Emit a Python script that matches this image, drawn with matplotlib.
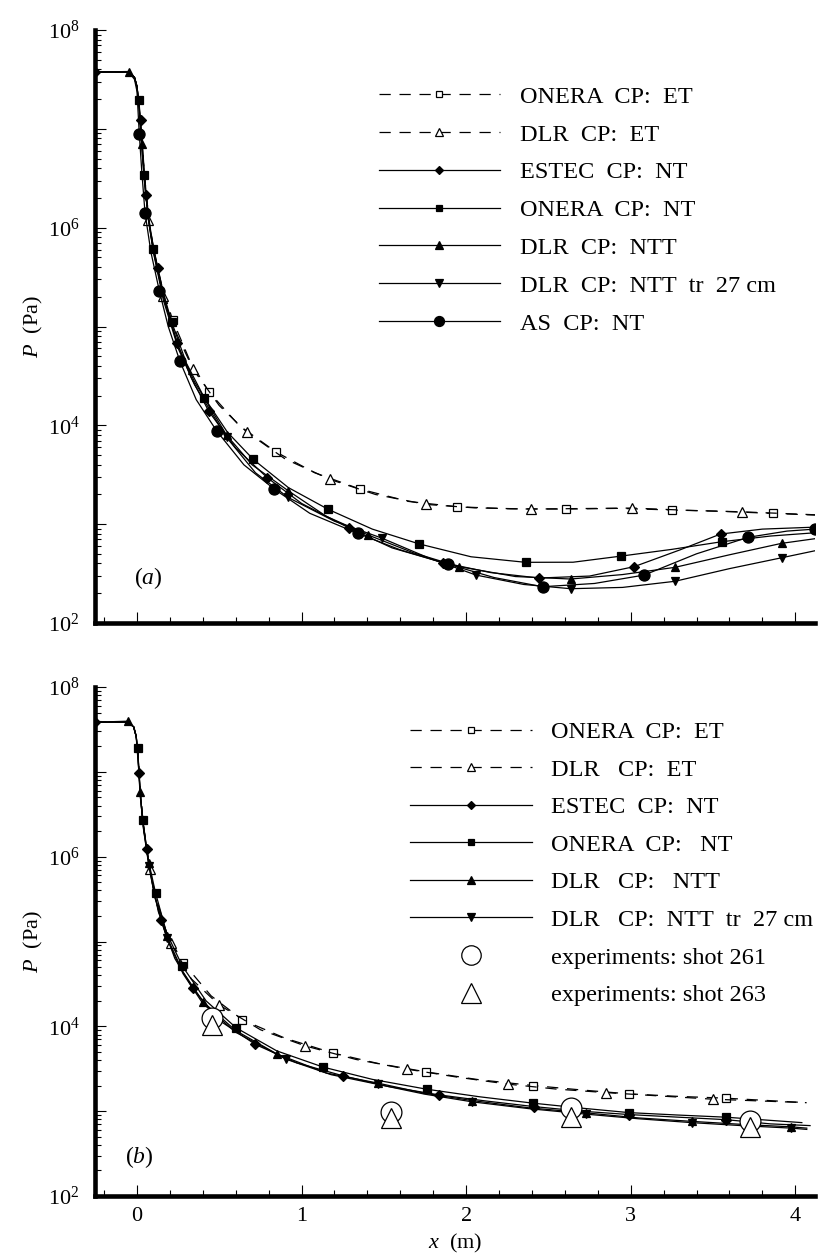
import numpy as np
import matplotlib
matplotlib.use('Agg')
import matplotlib.pyplot as plt
from matplotlib.lines import Line2D
from matplotlib.ticker import LogLocator, MultipleLocator, FuncFormatter, NullFormatter

plt.rcParams['font.family'] = ['Liberation Serif', 'DejaVu Serif']
plt.rcParams['mathtext.fontset'] = 'custom'
plt.rcParams['mathtext.rm'] = 'Liberation Serif'
plt.rcParams['mathtext.it'] = 'Liberation Serif:italic'

# ---------------- panel (a): x in m, log10(P / Pa), marker node indices
a_onera_et_x = [-0.255, -0.05, -0.015, 0.0, 0.012, 0.03, 0.045, 0.07, 0.1, 0.15, 0.217, 0.32, 0.437,
                0.62, 0.843, 1.08, 1.355, 1.65, 1.946, 2.27, 2.61, 2.93, 3.254, 3.55, 3.862, 4.12]
a_onera_et_lp = [7.575, 7.575, 7.52, 7.43, 7.28, 6.85, 6.54, 6.12, 5.79, 5.42, 5.064, 4.66, 4.339,
                 4.0, 3.732, 3.52, 3.355, 3.23, 3.176, 3.155, 3.153, 3.16, 3.143, 3.13, 3.109, 3.092]
a_onera_et_marks = [10, 12, 14, 16, 18, 20, 22, 24]

a_dlr_et_x = [-0.255, -0.05, -0.015, 0.0, 0.012, 0.03, 0.045, 0.068, 0.1, 0.16, 0.24, 0.342, 0.5,
              0.666, 0.9, 1.173, 1.45, 1.756, 2.05, 2.394, 2.7, 3.009, 3.35, 3.674, 4.12]
a_dlr_et_lp = [7.575, 7.575, 7.52, 7.43, 7.27, 6.85, 6.52, 6.08, 5.78, 5.306, 4.93, 4.565, 4.2,
               3.934, 3.66, 3.453, 3.3, 3.2, 3.165, 3.153, 3.158, 3.163, 3.14, 3.125, 3.095]
a_dlr_et_marks = [7, 9, 11, 13, 15, 17, 19, 21, 23]

a_estec_x = [-0.255, -0.05, -0.015, 0.0, 0.022, 0.035, 0.053, 0.08, 0.126, 0.18, 0.245, 0.33, 0.437,
             0.6, 0.792, 1.0, 1.29, 1.55, 1.861, 2.15, 2.444, 2.75, 3.021, 3.3, 3.546, 3.8, 4.12]
a_estec_lp = [7.575, 7.575, 7.52, 7.42, 7.09, 6.8, 6.33, 5.98, 5.59, 5.2, 4.83, 4.48, 4.14,
              3.77, 3.47, 3.21, 2.96, 2.76, 2.61, 2.51, 2.455, 2.475, 2.57, 2.74, 2.9, 2.95, 2.97]
a_estec_marks = [0, 4, 6, 8, 10, 12, 14, 16, 18, 20, 22, 24]

a_onera_nt_x = [-0.255, -0.05, -0.015, 0.0, 0.012, 0.028, 0.045, 0.07, 0.099, 0.15, 0.21, 0.3, 0.409,
                0.55, 0.707, 0.92, 1.162, 1.43, 1.715, 2.03, 2.361, 2.65, 2.942, 3.25, 3.552, 3.85, 4.12]
a_onera_nt_lp = [7.575, 7.575, 7.52, 7.42, 7.29, 6.9, 6.53, 6.12, 5.785, 5.4, 5.05, 4.63, 4.28,
                 3.93, 3.655, 3.37, 3.15, 2.95, 2.8, 2.67, 2.614, 2.615, 2.677, 2.745, 2.822, 2.88, 2.913]
a_onera_nt_marks = [4, 6, 8, 10, 12, 14, 16, 18, 20, 22, 24]

a_dlr_ntt_x = [-0.255, -0.05, -0.015, 0.0, 0.012, 0.028, 0.045, 0.07, 0.1, 0.16, 0.25, 0.35, 0.545,
               0.7, 0.919, 1.15, 1.405, 1.68, 1.958, 2.3, 2.635, 2.95, 3.269, 3.6, 3.917, 4.12]
a_dlr_ntt_lp = [7.575, 7.58, 7.52, 7.43, 7.24, 6.843, 6.48, 6.08, 5.76, 5.3, 4.8, 4.44, 3.9,
                3.6, 3.338, 3.08, 2.89, 2.71, 2.57, 2.47, 2.445, 2.49, 2.563, 2.69, 2.806, 2.853]
a_dlr_ntt_marks = [1, 5, 12, 14, 16, 18, 20, 22, 24]

a_dlr_tr_x = [-0.255, -0.05, -0.015, 0.0, 0.012, 0.03, 0.045, 0.07, 0.1, 0.16, 0.25, 0.35, 0.545,
              0.72, 0.919, 1.2, 1.486, 1.77, 2.06, 2.35, 2.635, 2.95, 3.269, 3.6, 3.917, 4.12]
a_dlr_tr_lp = [7.575, 7.575, 7.52, 7.43, 7.24, 6.8, 6.48, 6.07, 5.75, 5.27, 4.78, 4.41, 3.877,
               3.52, 3.27, 3.03, 2.86, 2.66, 2.485, 2.39, 2.347, 2.36, 2.422, 2.55, 2.66, 2.731]
a_dlr_tr_marks = [12, 14, 16, 18, 20, 22, 24]

a_as_x = [-0.255, -0.05, -0.015, 0.0, 0.014, 0.03, 0.049, 0.085, 0.136, 0.19, 0.261, 0.36, 0.484,
          0.65, 0.834, 1.05, 1.341, 1.6, 1.887, 2.17, 2.465, 2.78, 3.082, 3.4, 3.714, 3.95, 4.12]
a_as_lp = [7.575, 7.575, 7.5, 7.38, 6.95, 6.55, 6.149, 5.75, 5.36, 5.0, 4.649, 4.26, 3.944,
           3.6, 3.355, 3.11, 2.907, 2.74, 2.597, 2.46, 2.367, 2.4, 2.485, 2.7, 2.867, 2.93, 2.95]
a_as_marks = [4, 6, 8, 10, 12, 14, 16, 18, 20, 22, 24, 26]

# ---------------- panel (b)
b_onera_et_x = [-0.255, -0.06, -0.02, -0.005, 0.005, 0.02, 0.04, 0.07, 0.11, 0.18, 0.282, 0.45, 0.64,
                0.9, 1.193, 1.47, 1.756, 2.08, 2.408, 2.7, 2.989, 3.28, 3.578, 4.069]
b_onera_et_lp = [7.585, 7.585, 7.53, 7.42, 7.26, 6.76, 6.35, 5.95, 5.56, 5.1, 4.746, 4.36, 4.077,
                 3.86, 3.684, 3.56, 3.463, 3.37, 3.302, 3.25, 3.204, 3.175, 3.153, 3.1]
b_onera_et_marks = [10, 12, 14, 16, 18, 20, 22]

b_dlr_et_x = [-0.255, -0.06, -0.02, -0.005, 0.005, 0.02, 0.04, 0.077, 0.13, 0.207, 0.33, 0.498,
              0.75, 1.021, 1.33, 1.642, 1.95, 2.256, 2.55, 2.849, 3.17, 3.501, 4.069]
b_dlr_et_lp = [7.585, 7.585, 7.53, 7.42, 7.26, 6.76, 6.35, 5.85, 5.35, 4.982, 4.56, 4.254,
               3.96, 3.77, 3.61, 3.495, 3.4, 3.318, 3.26, 3.219, 3.18, 3.141, 3.1]
b_dlr_et_marks = [7, 9, 11, 13, 15, 17, 19, 21]

b_estec_x = [-0.255, -0.06, -0.02, -0.005, 0.012, 0.03, 0.059, 0.095, 0.144, 0.23, 0.338, 0.5, 0.72,
             0.97, 1.253, 1.53, 1.835, 2.12, 2.412, 2.7, 2.99, 3.28, 3.578, 3.85, 4.09]
b_estec_lp = [7.585, 7.59, 7.53, 7.42, 6.988, 6.52, 6.091, 5.67, 5.257, 4.8, 4.451, 4.07, 3.786,
              3.57, 3.416, 3.29, 3.192, 3.12, 3.054, 3.0, 2.96, 2.93, 2.9, 2.85, 2.83]
b_estec_marks = [0, 4, 6, 8, 10, 12, 14, 16, 18, 20, 22]

b_onera_nt_x = [-0.255, -0.06, -0.02, -0.005, 0.004, 0.018, 0.034, 0.07, 0.113, 0.18, 0.276, 0.42,
                0.603, 0.85, 1.132, 1.43, 1.76, 2.08, 2.408, 2.7, 2.989, 3.28, 3.578, 4.04]
b_onera_nt_lp = [7.585, 7.585, 7.53, 7.42, 7.283, 6.82, 6.437, 5.95, 5.572, 5.1, 4.71, 4.3,
                 3.982, 3.71, 3.519, 3.375, 3.259, 3.17, 3.094, 3.036, 2.983, 2.955, 2.929, 2.865]
b_onera_nt_marks = [4, 6, 8, 10, 12, 14, 16, 18, 20, 22]

b_dlr_ntt_x = [-0.255, -0.057, -0.02, -0.005, 0.005, 0.018, 0.04, 0.071, 0.11, 0.18, 0.28, 0.403,
               0.6, 0.849, 1.15, 1.466, 1.75, 2.037, 2.38, 2.728, 3.05, 3.37, 3.67, 3.977, 4.07]
b_dlr_ntt_lp = [7.585, 7.597, 7.53, 7.42, 7.24, 6.759, 6.33, 5.92, 5.52, 5.06, 4.64, 4.286,
                3.95, 3.676, 3.45, 3.33, 3.21, 3.125, 3.04, 2.98, 2.92, 2.88, 2.845, 2.815, 2.8]
b_dlr_ntt_marks = [1, 5, 7, 9, 11, 13, 15, 17, 19, 21, 23]

b_dlr_tr_x = [-0.255, -0.05, -0.02, -0.005, 0.005, 0.02, 0.04, 0.072, 0.11, 0.18, 0.28, 0.4,
              0.6, 0.905, 1.18, 1.466, 1.75, 2.037, 2.38, 2.728, 3.05, 3.37, 3.67, 3.977, 4.07]
b_dlr_tr_lp = [7.585, 7.585, 7.53, 7.42, 7.24, 6.72, 6.32, 5.895, 5.51, 5.045, 4.62, 4.27,
               3.93, 3.613, 3.43, 3.315, 3.2, 3.11, 3.03, 2.965, 2.91, 2.865, 2.83, 2.8, 2.785]
b_dlr_tr_marks = [7, 9, 13, 15, 17, 19, 21, 23]

# experiments (panel b)
shot261_x = [0.454, 1.543, 2.635, 3.728]
shot261_lp = [4.097, 2.995, 3.035, 2.889]
shot263_x = [0.457, 1.543, 2.635, 3.728]
shot263_lp = [4.018, 2.917, 2.936, 2.818]

DASH = (0, (9, 7))
styles = {
    'onera_et': dict(ls=DASH, marker='s', mfc='white', ms=5.5),
    'dlr_et': dict(ls=DASH, marker='^', mfc='white', ms=6.5),
    'estec': dict(ls='-', marker='D', mfc='black', ms=5),
    'onera_nt': dict(ls='-', marker='s', mfc='black', ms=5.5),
    'dlr_ntt': dict(ls='-', marker='^', mfc='black', ms=6),
    'dlr_tr': dict(ls='-', marker='v', mfc='black', ms=6),
    'as': dict(ls='-', marker='o', mfc='black', ms=8),
}

series_a = [
    ('onera_et', 'ONERA  CP:  ET', a_onera_et_x, a_onera_et_lp, a_onera_et_marks),
    ('dlr_et', 'DLR  CP:  ET', a_dlr_et_x, a_dlr_et_lp, a_dlr_et_marks),
    ('estec', 'ESTEC  CP:  NT', a_estec_x, a_estec_lp, a_estec_marks),
    ('onera_nt', 'ONERA  CP:  NT', a_onera_nt_x, a_onera_nt_lp, a_onera_nt_marks),
    ('dlr_ntt', 'DLR  CP:  NTT', a_dlr_ntt_x, a_dlr_ntt_lp, a_dlr_ntt_marks),
    ('dlr_tr', 'DLR  CP:  NTT  tr  27 cm', a_dlr_tr_x, a_dlr_tr_lp, a_dlr_tr_marks),
    ('as', 'AS  CP:  NT', a_as_x, a_as_lp, a_as_marks),
]
series_b = [
    ('onera_et', 'ONERA  CP:  ET', b_onera_et_x, b_onera_et_lp, b_onera_et_marks),
    ('dlr_et', 'DLR   CP:  ET', b_dlr_et_x, b_dlr_et_lp, b_dlr_et_marks),
    ('estec', 'ESTEC  CP:  NT', b_estec_x, b_estec_lp, b_estec_marks),
    ('onera_nt', 'ONERA  CP:   NT', b_onera_nt_x, b_onera_nt_lp, b_onera_nt_marks),
    ('dlr_ntt', 'DLR   CP:   NTT', b_dlr_ntt_x, b_dlr_ntt_lp, b_dlr_ntt_marks),
    ('dlr_tr', 'DLR   CP:  NTT  tr  27 cm', b_dlr_tr_x, b_dlr_tr_lp, b_dlr_tr_marks),
]


def decade_label(v, pos):
    e = int(round(np.log10(v)))
    return r'$10^{%d}$' % e if e % 2 == 0 else ''


def draw_panel(ax, series):
    handles = []
    for key, label, x, lp, marks in series:
        st = styles[key]
        ax.plot(x, 10.0 ** np.array(lp), color='black', lw=0.9, ls=st['ls'],
                marker=st['marker'], ms=st['ms'], mfc=st['mfc'], mec='black', mew=0.9,
                markevery=marks)
        handles.append(Line2D([], [], color='black', lw=0.9, ls=st['ls'], marker=st['marker'],
                              ms=st['ms'] * 0.9, mfc=st['mfc'], mec='black', mew=0.9, label=label))
    ax.set_yscale('log')
    ax.set_xlim(-0.255, 4.12)
    ax.set_ylim(1e2, 1e8)
    for side in ['top', 'right']:
        ax.spines[side].set_visible(False)
    for side in ['left', 'bottom']:
        ax.spines[side].set_linewidth(3.3)
    ax.yaxis.set_major_locator(LogLocator(base=10, numticks=20))
    ax.yaxis.set_minor_locator(LogLocator(base=10, subs=np.arange(2, 10), numticks=20))
    ax.yaxis.set_major_formatter(FuncFormatter(decade_label))
    ax.yaxis.set_minor_formatter(NullFormatter())
    ax.xaxis.set_major_locator(MultipleLocator(1.0))
    ax.xaxis.set_minor_locator(MultipleLocator(0.2))
    ax.tick_params(which='both', direction='in', width=0.8, top=False, right=False)
    ax.tick_params(which='major', length=8)
    ax.tick_params(which='minor', length=4)
    ax.tick_params(axis='y', which='major', labelsize=16, pad=11)
    ax.tick_params(axis='x', which='major', labelsize=16, pad=8)
    ax.set_ylabel(r'$P$  (Pa)', fontsize=16, labelpad=2)
    return handles


fig = plt.figure(figsize=(8.18, 12.58), dpi=100)
ax_a = fig.add_axes([95 / 818, (1258 - 623) / 1258, 720 / 818, 593 / 1258])
ax_b = fig.add_axes([95 / 818, (1258 - 1196) / 1258, 720 / 818, 509 / 1258])

h_a = draw_panel(ax_a, series_a)
ax_a.tick_params(axis='x', labelbottom=False)
ax_a.legend(handles=h_a, loc='upper left', bbox_to_anchor=(0.394, 0.906), frameon=False,
            fontsize=17.5, handlelength=5.0, handletextpad=0.8, labelspacing=0.65,
            borderpad=0, borderaxespad=0, numpoints=1)
ax_a.text(0.074, 0.076, r'($a$)', transform=ax_a.transAxes, fontsize=17, ha='center', va='center')

h_b = draw_panel(ax_b, series_b)
ax_b.plot(shot261_x, 10.0 ** np.array(shot261_lp), ls='none', marker='o', ms=15,
          mfc='white', mec='black', mew=0.9)
ax_b.plot(shot263_x, 10.0 ** np.array(shot263_lp), ls='none', marker='^', ms=15,
          mfc='white', mec='black', mew=0.9)
h_b.append(Line2D([], [], ls='none', marker='o', ms=14, mfc='white', mec='black', mew=0.9,
                  label='experiments: shot 261'))
h_b.append(Line2D([], [], ls='none', marker='^', ms=14, mfc='white', mec='black', mew=0.9,
                  label='experiments: shot 263'))
ax_b.legend(handles=h_b, loc='upper left', bbox_to_anchor=(0.4375, 0.933), frameon=False,
            fontsize=17.5, handlelength=5.0, handletextpad=0.8, labelspacing=0.64,
            borderpad=0, borderaxespad=0, numpoints=1)
ax_b.text(0.061, 0.077, r'($b$)', transform=ax_b.transAxes, fontsize=17, ha='center', va='center')
ax_b.set_xlabel(r'$x$  (m)', fontsize=16, labelpad=4)

fig.savefig('out.png', dpi=100)
